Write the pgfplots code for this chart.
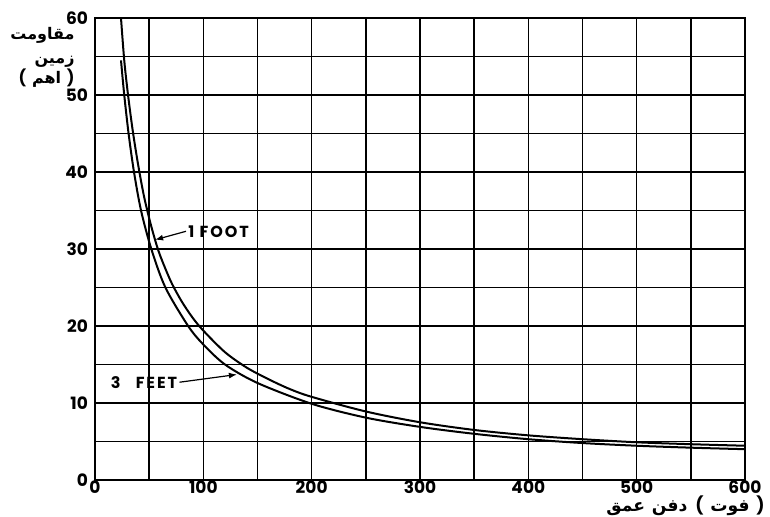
\documentclass[border=0pt]{standalone}
\usepackage{fontspec}
\setmainfont{Poppins}
\newfontfamily\popls[LetterSpace=12]{Poppins}
\newfontfamily\arabicfont[Script=Arabic]{DejaVu Sans}
\usepackage{pgfplots}
\pgfplotsset{compat=1.18}
\usetikzlibrary{arrows.meta}
\TeXXeTstate=1
\begin{document}
\begin{tikzpicture}[
  ar/.style={font=\arabicfont\bfseries\fontsize{8}{9}\selectfont, inner sep=0pt},
  pr/.style={font=\bfseries\fontsize{8}{9}\selectfont, inner sep=0pt},
  arx/.style={font=\arabicfont\bfseries\fontsize{8.6}{10}\selectfont, inner sep=0pt},
  prx/.style={font=\bfseries\fontsize{8.6}{10}\selectfont, inner sep=0pt},
]
\useasboundingbox (-47.5pt,-18pt) rectangle (337.5pt,240pt);
\begin{axis}[
 at={(0,0)}, anchor=south west,
 scale only axis, width=325pt, height=231pt,
 xmin=0, xmax=600, ymin=0, ymax=60,
 xtick={0,100,...,600}, ytick={0,10,...,60},
 minor x tick num=1, minor y tick num=1,
 grid=both,
 major grid style={black, line width=0.75pt},
 minor grid style={black, line width=0.75pt},
 axis line style={black, line width=1.1pt},
 major tick length=0pt, minor tick length=0pt,
 tick label style={font=\bfseries\fontsize{8.5}{10}\selectfont},
 xticklabel style={yshift=3pt},
 /pgf/number format/assume math mode=true,
 clip=false,
]
% 1 foot
\addplot[black, line width=1pt, smooth, tension=0.5] coordinates {
 (24,60) (27,54.5) (30.5,50) (35,45.2) (40,40.8) (45,37) (50,34) (55,31.4)
 (60,29.2) (70,25.8) (80,23.2) (90,21.1) (100,19.4) (120,16.6) (140,14.6)
 (160,13.1) (180,11.8) (200,10.8) (250,8.9) (300,7.5) (350,6.5) (400,5.8)
 (450,5.3) (500,4.9) (550,4.65) (600,4.45)};
% 3 feet
\addplot[black, line width=1pt, smooth, tension=0.5] coordinates {
 (24,54.5) (27,50) (31,45) (36,40) (42.5,35) (52,30) (65,25) (86,20)
 (100,17.6) (120,15) (150,12.6) (200,9.9) (250,8.1) (300,6.9) (350,6.0)
 (400,5.3) (450,4.8) (500,4.45) (550,4.2) (600,4.0)};
\node[anchor=west, font=\popls\bfseries\fontsize{8}{9}\selectfont, inner sep=1pt] (f1) at (axis cs:84,32.3) {1 FOOT};
\draw[black, line width=0.6pt, -{Latex[length=4pt,width=3pt]}] (f1.west) -- (axis cs:55.5,31.2);
\node[anchor=east, font=\popls\bfseries\fontsize{8}{9}\selectfont, inner sep=1pt] (f3) at (axis cs:78,12.7) {3\hspace{5pt} FEET};
\draw[black, line width=0.6pt, -{Latex[length=4pt,width=3pt]}] (f3.east) -- (axis cs:131,13.7);
\end{axis}
% y label (three lines)
\node[ar, anchor=base east] at (-10pt,220.5pt) {\beginR مقاومت\endR};
\node[ar, anchor=base east] at (-10pt,208.5pt) {\beginR زمین\endR};
\node[pr, anchor=base east] (yp2) at (-10pt,198.5pt) {)};
\node[ar, anchor=base east] (yw) at ([xshift=-2.5pt]yp2.base west) {\beginR اهم\endR};
\node[pr, anchor=base east] at ([xshift=-2.5pt]yw.base west) {(};
% x label
\node[prx, anchor=base east] (xp2) at (335pt,-15.5pt) {)};
\node[arx, anchor=base east] (xw3) at ([xshift=-3pt]xp2.base west) {\beginR فوت\endR};
\node[prx, anchor=base east] (xp1) at ([xshift=-3pt]xw3.base west) {(};
\node[arx, anchor=base east] (xw2) at ([xshift=-3.5pt]xp1.base west) {\beginR دفن\endR};
\node[arx, anchor=base east] at ([xshift=-3pt]xw2.base west) {\beginR عمق\endR};
\end{tikzpicture}
\end{document}
